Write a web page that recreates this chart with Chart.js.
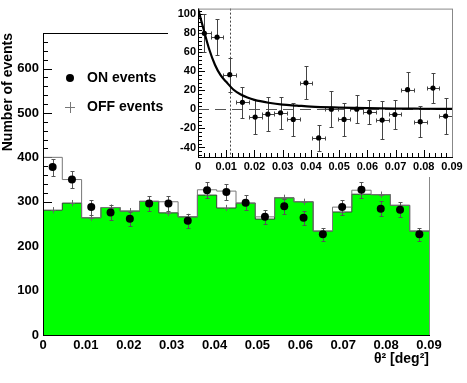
<!DOCTYPE html>
<html><head><meta charset="utf-8">
<script src="https://cdn.jsdelivr.net/npm/chart.js@4.4.0/dist/chart.umd.min.js"></script>
<style>
html,body{margin:0;padding:0;background:#fff;overflow:hidden;}
#wrap{position:relative;width:467px;height:383px;}
#main{position:absolute;left:0;top:0;}
#inset{position:absolute;left:168px;top:0;background:#fff;z-index:2;}
</style></head><body>
<div id="wrap"><canvas id="main" width="467" height="383"></canvas><canvas id="inset" width="299" height="177"></canvas></div>
<script>
// ---- data ----
const binLow = [0,0.0045,0.009,0.0135,0.018,0.0225,0.027,0.0315,0.036,0.0405,0.045,0.0495,0.054,0.0585,0.063,0.0675,0.072,0.0765,0.081,0.0855];
const binHigh = 0.09;
const binCenters = [0.00225,0.00675,0.01125,0.01575,0.02025,0.02475,0.02925,0.03375,0.03825,0.04275,0.04725,0.05175,0.05625,0.06075,0.06525,0.06975,0.07425,0.07875,0.08325,0.08775];
const halfBin = 0.00225;
const onEvents = [378,350,288,276,262,296,296,257,326,322,298,266,290,264,227,288,327,284,282,227];
const onErr = [19,19,17,17,16,17,17,16,18,18,17,16,17,16,15,17,18,17,17,15];
const offEvents = [281,297,264,287,279,301,275,266,315,286,297,261,309,300,234,277,317,316,292,234];
const offErr = [7,7,7,7,7,7,7,7,7,7,7,7,7,7,6,7,7,7,7,6];
const outlineVals = [400,350,264,287,279,301,300,266,327,324,297,266,309,300,234,288,326,316,292,234];
const excess = [80,76,36.5,7.5,-8,-5,-3.5,-10.5,28,-30,0.3,-10.5,0.3,-2.8,-11.2,-5.3,20.8,-12.9,22.5,-7];
const excessErr = [20,19,18,16,18,18,17,17,17.5,13.5,19,17,15,13,20,15,19,16,16,19];
const fitX = [0,0.002,0.004,0.006,0.008,0.01,0.0125,0.015,0.0175,0.02,0.025,0.03,0.035,0.04,0.05,0.06,0.07,0.08,0.09];
const fitY = [106,84,63,47,36,29,21,16,12.5,10,7,5,4,3,2,1.3,0.9,0.7,0.5];
const thetaCut = 0.0112;
const legendLabels = ['ON events','OFF events'];
const yTitle = 'Number of events';
const xTitle = 'θ² [deg²]';

const FONT = '"Liberation Sans", Arial, Helvetica, sans-serif';
Chart.defaults.font.family = FONT;
Chart.defaults.color = '#000';

function stepData(vals){
  const d = binLow.map((x,i)=>({x:x,y:vals[i]}));
  d.push({x:binHigh,y:vals[vals.length-1]});
  return d;
}
function ln(ctx,x1,y1,x2,y2){ctx.beginPath();ctx.moveTo(x1,y1);ctx.lineTo(x2,y2);ctx.stroke();}
const xFmt = v => v===0 ? '0' : Number(v).toFixed(2);

// ---- main chart ----
const mainPlugin = {
  id:'mainDeco',
  beforeDatasetsDraw(chart){
    const {ctx, chartArea:a, scales:{y}} = chart;
    ctx.save(); ctx.strokeStyle='#000'; ctx.lineWidth=1;
    for(let v=0; v<=y.max; v+=20){
      const py = Math.round(y.getPixelForValue(v))+0.5;
      ln(ctx, a.left, py, a.left + (v%100===0?9:5), py);
    }
    ctx.restore();
  },
  beforeDatasetDraw(chart,args){
    if(args.index!==2) return;
    const {ctx, scales:{x,y}} = chart;
    ctx.save(); ctx.lineWidth=1;
    ctx.strokeStyle='#666';
    binCenters.forEach((c,i)=>{
      const px=Math.round(x.getPixelForValue(c))+0.5, py=Math.round(y.getPixelForValue(offEvents[i]))+0.5;
      ln(ctx,px,y.getPixelForValue(offEvents[i]+offErr[i]),px,y.getPixelForValue(offEvents[i]-offErr[i]));
      ln(ctx,px-2.5,py,px+2.5,py);
    });
    ctx.strokeStyle='#555';
    binCenters.forEach((c,i)=>{
      const px=Math.round(x.getPixelForValue(c))+0.5;
      const t=Math.round(y.getPixelForValue(onEvents[i]+onErr[i]))+0.5, b=Math.round(y.getPixelForValue(onEvents[i]-onErr[i]))+0.5;
      ln(ctx,px,t,px,b); ln(ctx,px-2,t,px+2,t); ln(ctx,px-2,b,px+2,b);
    });
    ctx.restore();
  },
  afterDatasetsDraw(chart){
    const {ctx, chartArea:a} = chart;
    ctx.save(); ctx.lineWidth=1;
    ctx.strokeStyle='#888';
    ln(ctx, a.right+0.5, a.top, a.right+0.5, a.bottom);
    ctx.strokeStyle='#000';
    ln(ctx, a.left+0.5, a.top, a.left+0.5, a.bottom+0.5);
    ln(ctx, a.left, a.bottom+0.5, a.right+1, a.bottom+0.5);
    ln(ctx, a.left, a.top+0.5, a.right+1, a.top+0.5);
    ctx.restore();
  },
  afterDraw(chart){
    const ctx = chart.ctx;
    ctx.save();
    ctx.fillStyle='#000';
    ctx.beginPath(); ctx.arc(70,78,4,0,Math.PI*2); ctx.fill();
    ctx.strokeStyle='#777'; ctx.lineWidth=1;
    ln(ctx,65,107.5,75,107.5); ln(ctx,70.5,102,70.5,113);
    ctx.font='bold 14px '+FONT; ctx.textBaseline='middle'; ctx.textAlign='left';
    ctx.fillText(legendLabels[0],87,78);
    ctx.fillText(legendLabels[1],87,107);
    ctx.restore();
  }
};

new Chart(document.getElementById('main'),{
  type:'line',
  data:{datasets:[
    {label:'OFF', data:stepData(offEvents), stepped:'before', fill:'origin', backgroundColor:'#00ff00', borderColor:'#3a3a3a', borderWidth:1, pointRadius:0, order:2},
    {label:'outline', data:stepData(outlineVals), stepped:'before', fill:false, borderColor:'#777', borderWidth:1, pointRadius:0, order:1},
    {label:'ON', type:'scatter', data:binCenters.map((c,i)=>({x:c,y:onEvents[i]})), showLine:false, pointRadius:4, pointBackgroundColor:'#000', pointBorderColor:'#000', pointBorderWidth:0, order:0}
  ]},
  options:{
    responsive:false, animation:false, devicePixelRatio:1,
    layout:{padding:{left:0,right:38,top:33,bottom:15}},
    plugins:{legend:{display:false},tooltip:{enabled:false}},
    scales:{
      x:{type:'linear', min:0, max:0.09, afterFit:s=>{s.height=33;},
         grid:{display:false, drawTicks:false}, border:{display:false},
         ticks:{stepSize:0.01, callback:xFmt, maxRotation:0, autoSkip:false, padding:3, font:{size:13,weight:'bold'}},
         title:{display:true, text:xTitle, align:'end', padding:0, font:{size:14,weight:'bold'}}},
      y:{type:'linear', min:0, max:680, afterFit:s=>{s.width=43;},
         grid:{display:false, drawTicks:false}, border:{display:false},
         ticks:{stepSize:100, includeBounds:false, padding:4, font:{size:13,weight:'bold'}},
         title:{display:true, text:yTitle, align:'end', padding:0, font:{size:14,weight:'bold'}}}
    }
  },
  plugins:[mainPlugin]
});

// ---- inset ----
const insetPlugin = {
  id:'insetDeco',
  beforeDraw(chart){
    const ctx=chart.ctx; ctx.save(); ctx.fillStyle='#fff'; ctx.fillRect(0,0,chart.width,chart.height); ctx.restore();
  },
  beforeDatasetsDraw(chart){
    const {ctx, chartArea:a, scales:{x,y}} = chart;
    ctx.save(); ctx.lineWidth=1; ctx.strokeStyle='#000';
    for(let v=-48; v<=104; v+=4){
      const py=Math.round(y.getPixelForValue(v))+0.5;
      ln(ctx,a.left,py,a.left+(v%20===0?7:4),py);
    }
    for(let k=0;k<=45;k++){
      const v=k*0.002; const px=Math.round(x.getPixelForValue(v))+0.5;
      ln(ctx,px,a.bottom,px,a.bottom-(k%5===0?7:4));
    }
    ctx.strokeStyle='#555'; ctx.setLineDash([11,6]);
    const y0=Math.round(y.getPixelForValue(0))+0.5;
    ln(ctx,a.left,y0,a.right,y0);
    ctx.setLineDash([2,2]); ctx.strokeStyle='#444';
    const xc=Math.round(x.getPixelForValue(thetaCut))+0.5;
    ln(ctx,xc,a.top,xc,a.bottom);
    ctx.setLineDash([]);
    ctx.strokeStyle='#444';
    binCenters.forEach((c,i)=>{
      const px=Math.round(x.getPixelForValue(c))+0.5, py=Math.round(y.getPixelForValue(excess[i]))+0.5;
      const t=Math.round(y.getPixelForValue(excess[i]+excessErr[i]))+0.5, b=Math.round(y.getPixelForValue(excess[i]-excessErr[i]))+0.5;
      const l=Math.round(x.getPixelForValue(c-halfBin))+0.5, r=Math.round(x.getPixelForValue(c+halfBin))+0.5;
      ln(ctx,px,t,px,b); ln(ctx,px-2,t,px+2,t); ln(ctx,px-2,b,px+2,b);
      ln(ctx,l,py,r,py); ln(ctx,l,py-2,l,py+2); ln(ctx,r,py-2,r,py+2);
    });
    ctx.restore();
  },
  afterDatasetsDraw(chart){
    const {ctx, chartArea:a} = chart;
    ctx.save(); ctx.lineWidth=1;
    ctx.strokeStyle='#888';
    ln(ctx,a.left,a.top+0.5,a.right,a.top+0.5);
    ln(ctx,a.right+0.5,a.top,a.right+0.5,a.bottom);
    ctx.strokeStyle='#000';
    ln(ctx,a.left+0.5,a.top,a.left+0.5,a.bottom+0.5);
    ln(ctx,a.left,a.bottom+0.5,a.right+1,a.bottom+0.5);
    ctx.restore();
  }
};

new Chart(document.getElementById('inset'),{
  type:'scatter',
  data:{datasets:[
    {label:'excess', data:binCenters.map((c,i)=>({x:c,y:excess[i]})), pointRadius:2.6, pointBackgroundColor:'#000', pointBorderWidth:0, order:0},
    {label:'fit', type:'line', data:fitX.map((v,i)=>({x:v,y:fitY[i]})), showLine:true, borderColor:'#000', borderWidth:2.2, pointRadius:0, cubicInterpolationMode:'monotone', fill:false, order:1}
  ]},
  options:{
    responsive:false, animation:false, devicePixelRatio:1,
    layout:{padding:{left:0,right:15,top:7,bottom:0}},
    plugins:{legend:{display:false},tooltip:{enabled:false}},
    scales:{
      x:{type:'linear', min:0, max:0.09, afterFit:s=>{s.height=20;},
         grid:{display:false, drawTicks:false}, border:{display:false},
         ticks:{stepSize:0.01, callback:xFmt, maxRotation:0, autoSkip:false, padding:3, font:{size:11,weight:'bold'}},
      },
      y:{type:'linear', min:-50, max:106, afterFit:s=>{s.width=30;},
         grid:{display:false, drawTicks:false}, border:{display:false},
         ticks:{stepSize:20, includeBounds:false, padding:2, font:{size:11,weight:'bold'}}}
    }
  },
  plugins:[insetPlugin]
});
</script>
</body></html>
